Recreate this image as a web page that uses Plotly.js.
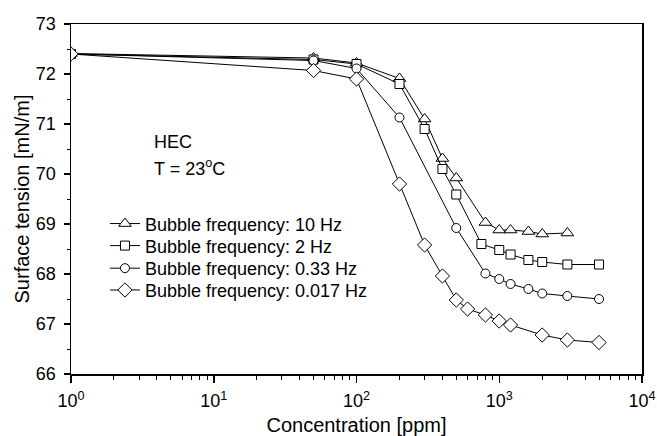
<!DOCTYPE html>
<html>
<head>
<meta charset="utf-8">
<script src="https://cdn.plot.ly/plotly-3.0.1.min.js"></script>
<style>html,body{margin:0;padding:0;background:#fff}</style>
</head>
<body>
<div id="chart" style="width:657px;height:436px"></div>
<script>
// Data
const xTri = [1, 50, 100, 200, 300, 400, 500, 800, 1000, 1200, 1600, 2000, 3000];
const yTri = [72.41, 72.32, 72.22, 71.91, 71.10, 70.31, 69.92, 69.03, 68.88, 68.88, 68.85, 68.80, 68.82];

const xSq = [1, 50, 100, 200, 300, 400, 500, 750, 1000, 1200, 1600, 2000, 3000, 5000];
const ySq = [72.40, 72.29, 72.20, 71.80, 70.90, 70.10, 69.59, 68.60, 68.48, 68.39, 68.28, 68.24, 68.19, 68.19];

const xCirc = [1, 50, 100, 200, 500, 800, 1000, 1200, 1600, 2000, 3000, 5000];
const yCirc = [72.40, 72.27, 72.11, 71.13, 68.92, 68.01, 67.90, 67.80, 67.70, 67.61, 67.56, 67.50];

const xDia = [1, 50, 100, 200, 300, 400, 500, 600, 800, 1000, 1200, 2000, 3000, 5000];
const yDia = [72.40, 72.07, 71.90, 69.80, 68.58, 67.96, 67.48, 67.30, 67.18, 67.06, 66.98, 66.78, 66.68, 66.63];

const seriesNames = [
  'Bubble frequency: 10 Hz',
  'Bubble frequency: 2 Hz',
  'Bubble frequency: 0.33 Hz',
  'Bubble frequency: 0.017 Hz'
];
const xTickVals = [1, 10, 100, 1000, 10000];
const xTickText = ['10<sup>0</sup>', '10<sup>1</sup>', '10<sup>2</sup>', '10<sup>3</sup>', '10<sup>4</sup>'];

const minorVals = [];
for (let d = 0; d < 4; d++) for (let k = 2; k <= 9; k++) minorVals.push(k * Math.pow(10, d));

const FONT = 'Liberation Sans, Arial, sans-serif';
const legendIds = ['legend', 'legend2', 'legend3', 'legend4'];
function mk(x, y, name, symbol, size, lg) {
  return {
    x: x, y: y, name: name, type: 'scatter', mode: 'lines+markers', legend: lg,
    line: {color: 'black', width: 1},
    marker: {symbol: symbol, size: size, color: 'white', line: {color: 'black', width: 1}}
  };
}
const data = [
  mk(xTri, yTri, seriesNames[0], 'triangle-up', 11, legendIds[0]),
  mk(xSq, ySq, seriesNames[1], 'square', 9, legendIds[1]),
  mk(xCirc, yCirc, seriesNames[2], 'circle', 9, legendIds[2]),
  mk(xDia, yDia, seriesNames[3], 'diamond', 11, legendIds[3])
];

function legendAt(yc) {
  return {
    x: 0.0595, y: yc, xanchor: 'left', yanchor: 'middle',
    bgcolor: 'rgba(0,0,0,0)', borderwidth: 0,
    font: {family: FONT, size: 18, color: 'black'}
  };
}

const layout = {
  width: 657, height: 436,
  margin: {l: 71, r: 15, t: 24, b: 62},
  paper_bgcolor: 'white', plot_bgcolor: 'white',
  font: {family: FONT, size: 18, color: 'black'},
  showlegend: true,
  legend: legendAt(0.429),
  legend2: legendAt(0.366),
  legend3: legendAt(0.3015),
  legend4: legendAt(0.2392),
  xaxis: {
    type: 'log', range: [0, 4],
    tickmode: 'array', tickvals: xTickVals, ticktext: xTickText,
    ticks: 'outside', ticklen: 7, tickwidth: 1.5, tickcolor: 'black',
    ticklabelstandoff: 3,
    showline: true, linecolor: 'black', linewidth: 1.5, mirror: true,
    showgrid: false, zeroline: false,
    tickfont: {family: FONT, size: 18},
    minor: {tickmode: 'array', tickvals: minorVals, ticks: 'outside', ticklen: 4, tickwidth: 1, tickcolor: 'black', showgrid: false},
    title: {text: 'Concentration [ppm]', font: {family: FONT, size: 20}, standoff: 10}
  },
  yaxis: {
    range: [66, 73], dtick: 1, tick0: 66,
    ticks: 'outside', ticklen: 6, tickwidth: 1.5, tickcolor: 'black',
    ticklabelstandoff: 4,
    showline: true, linecolor: 'black', linewidth: 1.5, mirror: true,
    showgrid: false, zeroline: false,
    tickfont: {family: FONT, size: 18},
    minor: {dtick: 0.5, ticks: 'outside', ticklen: 3, tickwidth: 1, tickcolor: 'black', showgrid: false},
    title: {text: 'Surface tension [mN/m]', font: {family: FONT, size: 20}, standoff: 1}
  },
  annotations: [
    {xref: 'paper', yref: 'paper', x: 0.142, y: 0.662, xanchor: 'left', yanchor: 'middle',
     text: 'HEC', showarrow: false, font: {family: FONT, size: 18}},
    {xref: 'paper', yref: 'paper', x: 0.142, y: 0.59, xanchor: 'left', yanchor: 'middle',
     text: 'T = 23<sup>o</sup>C', showarrow: false, font: {family: FONT, size: 18}}
  ]
};

Plotly.newPlot('chart', data, layout, {displayModeBar: false, staticPlot: true});
</script>
</body>
</html>
